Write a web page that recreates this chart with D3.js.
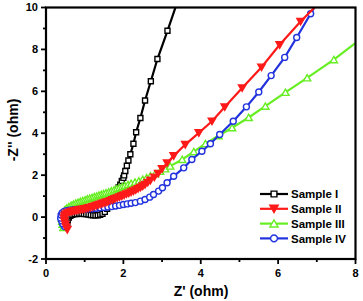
<!DOCTYPE html>
<html lang="en">
<head>
    <meta charset="UTF-8">
    <title>Nyquist plot</title>
    <script src="https://d3js.org/d3.v7.min.js"></script>
    <style>
        body { margin: 0; background: #fff; }
        text { font-family: "Liberation Sans", Arial, sans-serif; font-weight: bold; }
        .tick-label { font-size: 11px; }
        .axis-title { font-size: 14px; }
        .legend-label { font-size: 11.5px; }
    </style>
</head>
<body>
    <div id="chart"></div>
    <script>
        // Z' / -Z'' pairs
        const sampleI = [[0.55,-0.3],[0.56,-0.15],[0.59,-0.02],[0.63,0.06],[0.68,0.11],[0.74,0.14],[0.8,0.15],[0.86,0.16],[0.92,0.16],[0.98,0.15],[1.04,0.14],[1.1,0.12],[1.16,0.1],[1.22,0.09],[1.28,0.08],[1.34,0.09],[1.4,0.11],[1.46,0.16],[1.52,0.25],[1.58,0.4],[1.63,0.57],[1.68,0.75],[1.72,0.9],[1.76,1.03],[1.8,1.15],[1.84,1.28],[1.88,1.42],[1.92,1.55],[1.96,1.72],[2.0,1.87],[2.02,1.99],[2.05,2.2],[2.09,2.45],[2.13,2.7],[2.18,3.0],[2.26,3.5],[2.33,4.05],[2.44,4.73],[2.56,5.56],[2.71,6.48],[2.88,7.54],[3.14,8.89],[3.42,10.4]];
        const sampleII = [[0.55,-0.6],[0.52,-0.48],[0.5,-0.35],[0.48,-0.2],[0.47,-0.06],[0.48,0.05],[0.51,0.13],[0.55,0.19],[0.6,0.23],[0.65,0.26],[0.7,0.28],[0.75,0.3],[0.8,0.32],[0.85,0.34],[0.9,0.36],[0.95,0.37],[1.0,0.39],[1.05,0.41],[1.1,0.44],[1.15,0.46],[1.2,0.49],[1.25,0.52],[1.3,0.55],[1.35,0.58],[1.4,0.61],[1.45,0.64],[1.5,0.67],[1.55,0.7],[1.6,0.73],[1.66,0.78],[1.72,0.82],[1.78,0.87],[1.84,0.91],[1.9,0.96],[1.96,1.0],[2.02,1.05],[2.08,1.1],[2.14,1.14],[2.2,1.19],[2.26,1.24],[2.32,1.29],[2.38,1.35],[2.44,1.41],[2.5,1.48],[2.56,1.55],[2.63,1.65],[2.7,1.75],[2.8,1.9],[2.9,2.08],[3.0,2.3],[3.13,2.58],[3.3,2.92],[3.6,3.46],[3.95,4.02],[4.29,4.57],[4.62,5.25],[5.07,6.16],[5.57,7.15],[6.04,8.22],[6.58,9.33],[7.05,10.2]];
        const sampleIII = [[0.45,-0.5],[0.43,-0.35],[0.42,-0.2],[0.41,-0.05],[0.42,0.1],[0.44,0.22],[0.48,0.33],[0.53,0.42],[0.59,0.5],[0.65,0.56],[0.71,0.61],[0.77,0.66],[0.83,0.7],[0.89,0.74],[0.95,0.78],[1.01,0.82],[1.07,0.86],[1.13,0.9],[1.19,0.93],[1.25,0.97],[1.31,1.0],[1.37,1.04],[1.43,1.08],[1.49,1.11],[1.55,1.15],[1.62,1.2],[1.69,1.25],[1.76,1.3],[1.83,1.35],[1.9,1.4],[1.97,1.45],[2.04,1.5],[2.12,1.55],[2.2,1.6],[2.3,1.66],[2.4,1.72],[2.5,1.8],[2.6,1.88],[2.7,1.96],[2.82,2.06],[2.95,2.18],[3.08,2.3],[3.21,2.43],[3.52,2.75],[3.82,3.12],[4.12,3.5],[4.46,3.88],[4.81,4.26],[5.24,4.75],[5.67,5.29],[6.19,5.95],[6.75,6.64],[7.44,7.51],[8.1,8.45]];
        const sampleIV = [[0.48,-0.45],[0.43,-0.32],[0.4,-0.18],[0.38,-0.05],[0.39,0.1],[0.42,0.2],[0.47,0.27],[0.53,0.31],[0.6,0.33],[0.7,0.35],[0.8,0.36],[0.9,0.37],[1.0,0.38],[1.1,0.39],[1.2,0.4],[1.3,0.42],[1.4,0.44],[1.5,0.46],[1.6,0.48],[1.7,0.5],[1.8,0.53],[1.9,0.56],[2.0,0.6],[2.1,0.63],[2.2,0.66],[2.31,0.69],[2.44,0.76],[2.56,0.84],[2.68,0.95],[2.78,1.08],[2.91,1.24],[3.01,1.4],[3.13,1.64],[3.3,1.95],[3.56,2.35],[3.77,2.75],[4.03,3.14],[4.25,3.5],[4.49,3.94],[4.84,4.57],[5.18,5.26],[5.5,5.97],[5.82,6.75],[6.17,7.62],[6.48,8.57],[6.84,9.7],[7.0,10.2]];

        const seriesNames = ['Sample I', 'Sample II', 'Sample III', 'Sample IV'];
        const xTicks = [0, 2, 4, 6, 8];
        const yTicks = [-2, 0, 2, 4, 6, 8, 10];

        const series = [
            { name: seriesNames[0], data: sampleI, color: '#000000', shape: 'square', fill: '#fff' },
            { name: seriesNames[1], data: sampleII, color: '#ff1a1a', shape: 'down', fill: '#ff1a1a' },
            { name: seriesNames[2], data: sampleIII, color: '#66ee22', shape: 'up', fill: '#fff' },
            { name: seriesNames[3], data: sampleIV, color: '#2233dd', shape: 'circle', fill: '#fff' }
        ];
        // red drawn last so it sits on top like the original
        const drawOrder = [0, 2, 3, 1];

        const W = 363, H = 301;
        const plot = { left: 46, right: 355.5, top: 7.5, bottom: 259 };

        const svg = d3.select('#chart').append('svg')
            .attr('width', W)
            .attr('height', H);

        const x = d3.scaleLinear().domain([0, 8]).range([plot.left, plot.right]);
        const y = d3.scaleLinear().domain([-2, 10]).range([plot.bottom, plot.top]);

        svg.append('clipPath').attr('id', 'clip')
            .append('rect')
            .attr('x', plot.left).attr('y', plot.top)
            .attr('width', plot.right - plot.left)
            .attr('height', plot.bottom - plot.top);

        function symbolPath(shape, s) {
            if (shape === 'square') return `M${-s},${-s}H${s}V${s}H${-s}Z`;
            if (shape === 'down') return `M${-s * 1.2},${-s}L${s * 1.2},${-s}L0,${s * 1.1}Z`;
            if (shape === 'up') return `M${-s * 1.2},${s}L${s * 1.2},${s}L0,${-s * 1.1}Z`;
            return d3.arc()({ innerRadius: 0, outerRadius: s, startAngle: 0, endAngle: 2 * Math.PI });
        }
        const markerSize = { square: 2.5, down: 3.1, up: 3.0, circle: 3.0 };

        const line = d3.line().x(d => x(d[0])).y(d => y(d[1]));
        const inside = d => d[0] <= 8 && d[1] <= 10;

        const plotArea = svg.append('g').attr('clip-path', 'url(#clip)');

        drawOrder.forEach(i => {
            const s = series[i];
            const g = plotArea.append('g');
            g.append('path')
                .datum(s.data)
                .attr('d', line)
                .attr('fill', 'none')
                .attr('stroke', s.color)
                .attr('stroke-width', 2.2);
            g.selectAll('.pt')
                .data(s.data.filter(inside))
                .join('path')
                .attr('class', 'pt')
                .attr('transform', d => `translate(${x(d[0])},${y(d[1])})`)
                .attr('d', symbolPath(s.shape, markerSize[s.shape]))
                .attr('fill', s.fill)
                .attr('stroke', s.color)
                .attr('stroke-width', 1.4);
        });

        // frame
        svg.append('rect')
            .attr('x', plot.left).attr('y', plot.top)
            .attr('width', plot.right - plot.left)
            .attr('height', plot.bottom - plot.top)
            .attr('fill', 'none')
            .attr('stroke', '#000')
            .attr('stroke-width', 2.2);

        // x axis
        const xAxis = svg.append('g').attr('transform', `translate(0,${plot.bottom})`);
        xAxis.selectAll('.maj').data(xTicks).join('line')
            .attr('x1', d => x(d)).attr('x2', d => x(d))
            .attr('y1', 0).attr('y2', 5)
            .attr('stroke', '#000').attr('stroke-width', 1.8);
        xAxis.selectAll('.min').data(d3.range(1, 8, 2)).join('line')
            .attr('x1', d => x(d)).attr('x2', d => x(d))
            .attr('y1', 0).attr('y2', 3)
            .attr('stroke', '#000').attr('stroke-width', 1.8);
        xAxis.selectAll('text').data(xTicks).join('text')
            .attr('class', 'tick-label')
            .attr('x', d => x(d))
            .attr('y', 18)
            .attr('text-anchor', 'middle')
            .text(d => d);

        // y axis
        const yAxis = svg.append('g').attr('transform', `translate(${plot.left},0)`);
        yAxis.selectAll('.maj').data(yTicks).join('line')
            .attr('y1', d => y(d)).attr('y2', d => y(d))
            .attr('x1', 0).attr('x2', -5)
            .attr('stroke', '#000').attr('stroke-width', 1.8);
        yAxis.selectAll('.min').data(d3.range(-1, 10, 2)).join('line')
            .attr('y1', d => y(d)).attr('y2', d => y(d))
            .attr('x1', 0).attr('x2', -3)
            .attr('stroke', '#000').attr('stroke-width', 1.8);
        yAxis.selectAll('text').data(yTicks).join('text')
            .attr('class', 'tick-label')
            .attr('x', -8)
            .attr('y', d => y(d))
            .attr('dy', '0.36em')
            .attr('text-anchor', 'end')
            .text(d => d);

        svg.append('text')
            .attr('class', 'axis-title')
            .attr('x', 201)
            .attr('y', 296)
            .attr('text-anchor', 'middle')
            .text("Z' (ohm)");

        svg.append('text')
            .attr('class', 'axis-title')
            .attr('transform', 'translate(18,130) rotate(-90)')
            .attr('text-anchor', 'middle')
            .text("-Z'' (ohm)");

        // legend
        const legend = svg.append('g').attr('transform', 'translate(260,194)');
        series.forEach((s, i) => {
            const g = legend.append('g').attr('transform', `translate(0,${i * 14.8})`);
            g.append('line')
                .attr('x1', 0).attr('x2', 28)
                .attr('stroke', s.color).attr('stroke-width', 2.2);
            g.append('path')
                .attr('transform', 'translate(14,0)')
                .attr('d', symbolPath(s.shape, markerSize[s.shape] + 0.4))
                .attr('fill', s.fill)
                .attr('stroke', s.color)
                .attr('stroke-width', 1.4);
            g.append('text')
                .attr('class', 'legend-label')
                .attr('x', 31)
                .attr('dy', '0.36em')
                .text(s.name);
        });
    </script>
</body>
</html>
